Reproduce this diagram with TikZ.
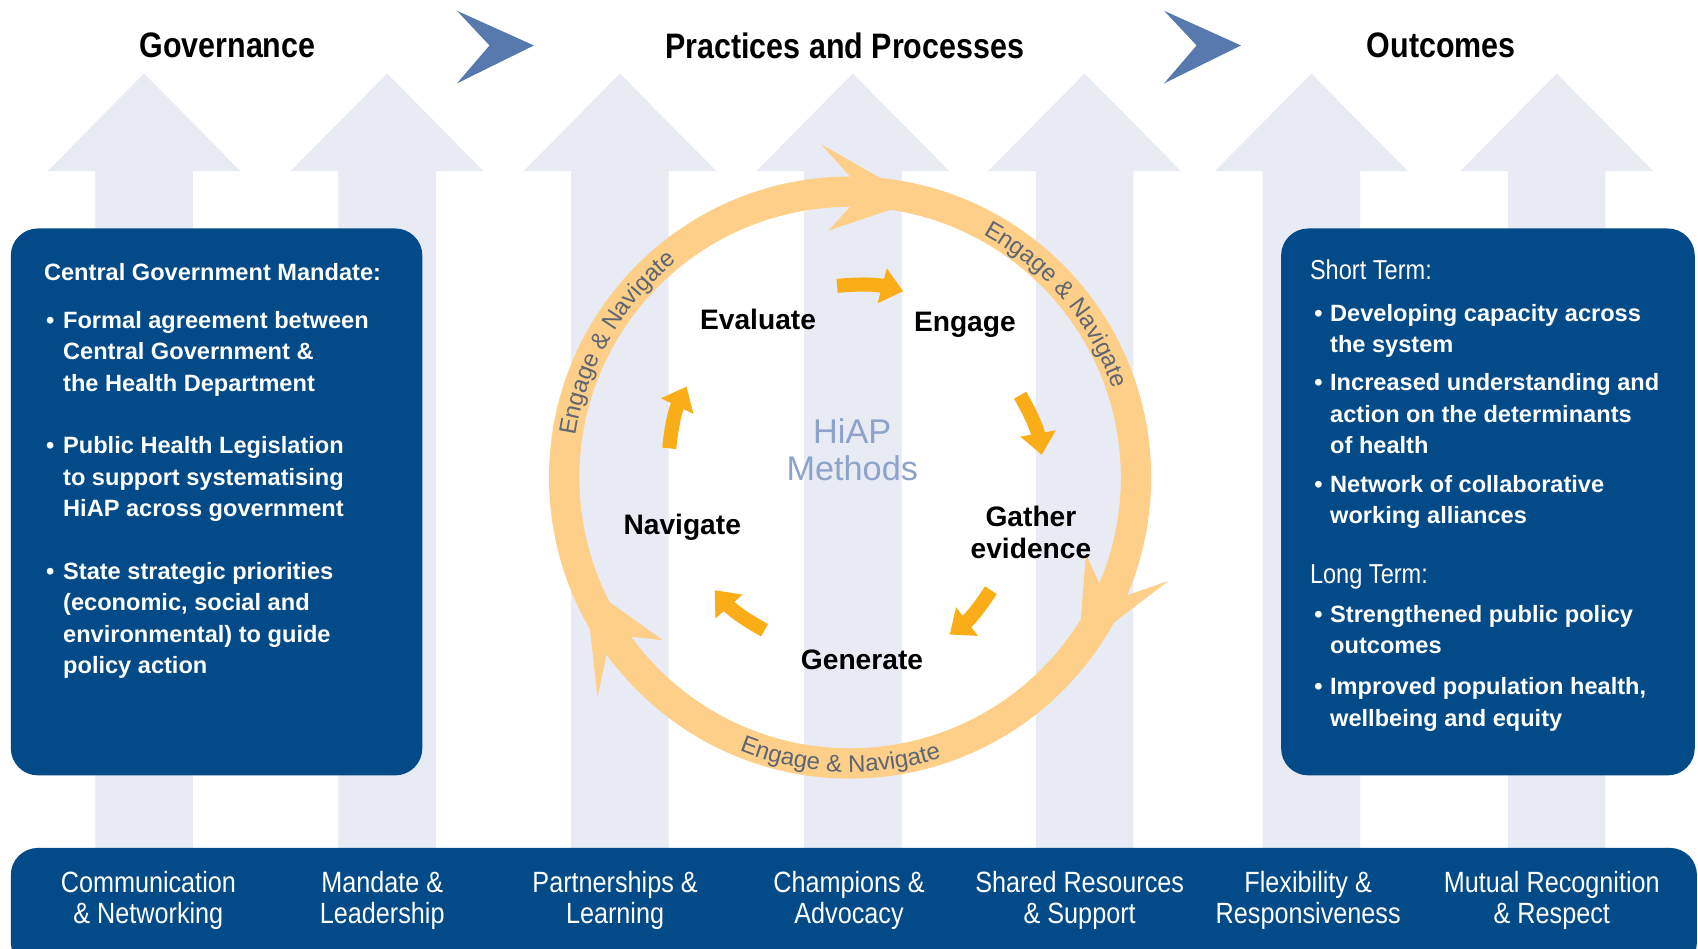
\documentclass[tikz,border=0pt]{standalone}
\usepackage{fontspec}
\setmainfont{Liberation Sans}
\newfontfamily\narrowfont[FakeStretch=0.86]{Liberation Sans}
\usetikzlibrary{arrows.meta,decorations.text}

\definecolor{paleblue}{HTML}{E8EBF3}
\definecolor{navy}{HTML}{034A88}
\definecolor{chevroncol}{HTML}{5779AE}
\definecolor{ringcol}{HTML}{FDCF88}
\definecolor{cyclecol}{HTML}{FBAD18}
\definecolor{ringtext}{HTML}{5E6573}
\definecolor{hiapcol}{HTML}{8EA3CB}

\tikzset{
    headline/.style={font=\narrowfont\bfseries\fontsize{9.3}{11}\selectfont},
    stage/.style={font=\bfseries\fontsize{7.4}{8.25}\selectfont, align=center},
    pillar/.style={font=\narrowfont\fontsize{7.7}{8.25}\selectfont, text=white, align=center},
    boxtext/.style={font=\bfseries\fontsize{6.2}{8.25}\selectfont, text=white, anchor=north west, inner sep=0pt},
    cyc/.style={cyclecol, line width=0.13cm, -{Triangle[length=0.2cm,width=0.32cm]}},
    ringlabel/.style={decorate, decoration={text along path, text align=center, text color=ringtext,
        text={|\fontsize{6.3}{7}\selectfont|Engage {\&} Navigate}}}
}

\begin{document}
\begin{tikzpicture}
    \clip (0,0) rectangle (15.68,-8.76);
    \fill[white] (0,0) rectangle (15.68,-8.76);

    \foreach \cx in {1.33,3.575,5.725,7.875,10.015,12.11,14.375}
        \fill[paleblue, shift={(\cx,0)}] (-0.45,-8) -- (-0.45,-1.58) -- (-0.89,-1.58) -- (0,-0.68)
            -- (0.89,-1.58) -- (0.45,-1.58) -- (0.45,-8) -- cycle;

    \node[headline] (gov) at (2.10,-0.42) {Governance};
    \node[headline] (prac) at (7.80,-0.42) {Practices and Processes};
    \node[headline] (outc) at (13.31,-0.42) {Outcomes};
    \foreach \dx in {0,6.53}
        \fill[chevroncol, shift={(\dx,0)}] (4.22,-0.10) -- (4.93,-0.42) -- (4.22,-0.77) -- (4.52,-0.42) -- cycle;

    \fill[navy, rounded corners=0.25cm] (0.10,-2.11) rectangle (3.90,-7.16);
    \fill[navy, rounded corners=0.25cm] (11.83,-2.11) rectangle (15.65,-7.16);
    \fill[navy, rounded corners=0.25cm] (0.10,-7.83) rectangle (15.67,-8.95);

    \node[boxtext] (mandate) at (0.40,-2.38) {%
        \begin{tabular}{@{\hspace{0.02cm}}l@{\hspace{0.08cm}}l@{}}
            \multicolumn{2}{@{}l@{}}{Central Government Mandate:}\\[4.3pt]
            \textbullet & Formal agreement between\\
            & Central Government \&\\
            & the Health Department\\[8.25pt]
            \textbullet & Public Health Legislation\\
            & to support systematising\\
            & HiAP across government\\[8.25pt]
            \textbullet & State strategic priorities\\
            & (economic, social and\\
            & environmental) to guide\\
            & policy action
        \end{tabular}};
    \node[boxtext] (terms) at (12.09,-2.37) {%
        \begin{tabular}{@{\hspace{0.04cm}}l@{\hspace{0.07cm}}l@{}}
            \multicolumn{2}{@{}l@{}}{\narrowfont\mdseries\fontsize{7.2}{8.25}\selectfont Short Term:}\\[2.8pt]
            \textbullet & Developing capacity across\\
            & the system\\[1.7pt]
            \textbullet & Increased understanding and\\
            & action on the determinants\\
            & of health\\[2pt]
            \textbullet & Network of collaborative\\
            & working alliances\\[7.3pt]
            \multicolumn{2}{@{}l@{}}{\narrowfont\mdseries\fontsize{7.2}{8.25}\selectfont Long Term:}\\[2pt]
            \textbullet & Strengthened public policy\\
            & outcomes\\[2.6pt]
            \textbullet & Improved population health,\\
            & wellbeing and equity
        \end{tabular}};

    \foreach \x/\txt [count=\i] in {1.37/{Communication\\\& Networking}, 3.53/{Mandate \&\\Leadership},
        5.68/{Partnerships \&\\Learning}, 7.84/{Champions \&\\Advocacy}, 9.97/{Shared Resources\\\& Support},
        12.08/{Flexibility \&\\Responsiveness}, 14.33/{Mutual Recognition\\\& Respect}}
        \node[pillar] (p\i) at (\x,-8.315) {\txt};

    \coordinate (hub) at (7.85,-4.41);
    \draw[ringcol, line width=0.28cm] (hub) circle[radius=2.64];
    \foreach \t in {76,-37,-158}
        \fill[ringcol, shift={(hub)}] (\t:2.64) -- ({\t+19}:3.09) -- ({\t+14}:2.78) -- ({\t+14}:2.50)
            -- ({\t+19}:2.29) -- cycle;
    \path[ringlabel] ([shift={(180:2.56)}]hub) arc[start angle=180, end angle=120, radius=2.56];
    \path[ringlabel] ([shift={(70:2.56)}]hub) arc[start angle=70, end angle=10, radius=2.56];
    \path[ringlabel] ([shift={(-122:2.72)}]hub) arc[start angle=-122, end angle=-62, radius=2.72];

    \node[stage] (evaluate) at (7.00,-2.95) {Evaluate};
    \node[stage] (engage) at (8.91,-3.00) {Engage};
    \node[stage] (gather) at (9.52,-4.915) {Gather\\evidence};
    \node[stage] (generate) at (7.96,-6.09) {Generate};
    \node[stage] (navigate) at (6.30,-4.87) {Navigate};
    \node[font=\fontsize{9}{9.7}\selectfont, text=hiapcol, align=center] (hiap) at (7.87,-4.15) {HiAP\\Methods};

    \coordinate (a1) at (7.73,-2.64);
    \coordinate (b1) at (8.34,-2.69);
    \coordinate (a2) at (9.42,-3.65);
    \coordinate (b2) at (9.62,-4.20);
    \coordinate (a3) at (9.15,-5.45);
    \coordinate (b3) at (8.77,-5.86);
    \coordinate (a4) at (7.06,-5.82);
    \coordinate (b4) at (6.60,-5.45);
    \coordinate (a5) at (6.18,-4.14);
    \coordinate (b5) at (6.34,-3.57);
    \foreach \i in {1,...,5}
        \draw[cyc] (a\i) to[bend left=10] (b\i);
\end{tikzpicture}
\end{document}
